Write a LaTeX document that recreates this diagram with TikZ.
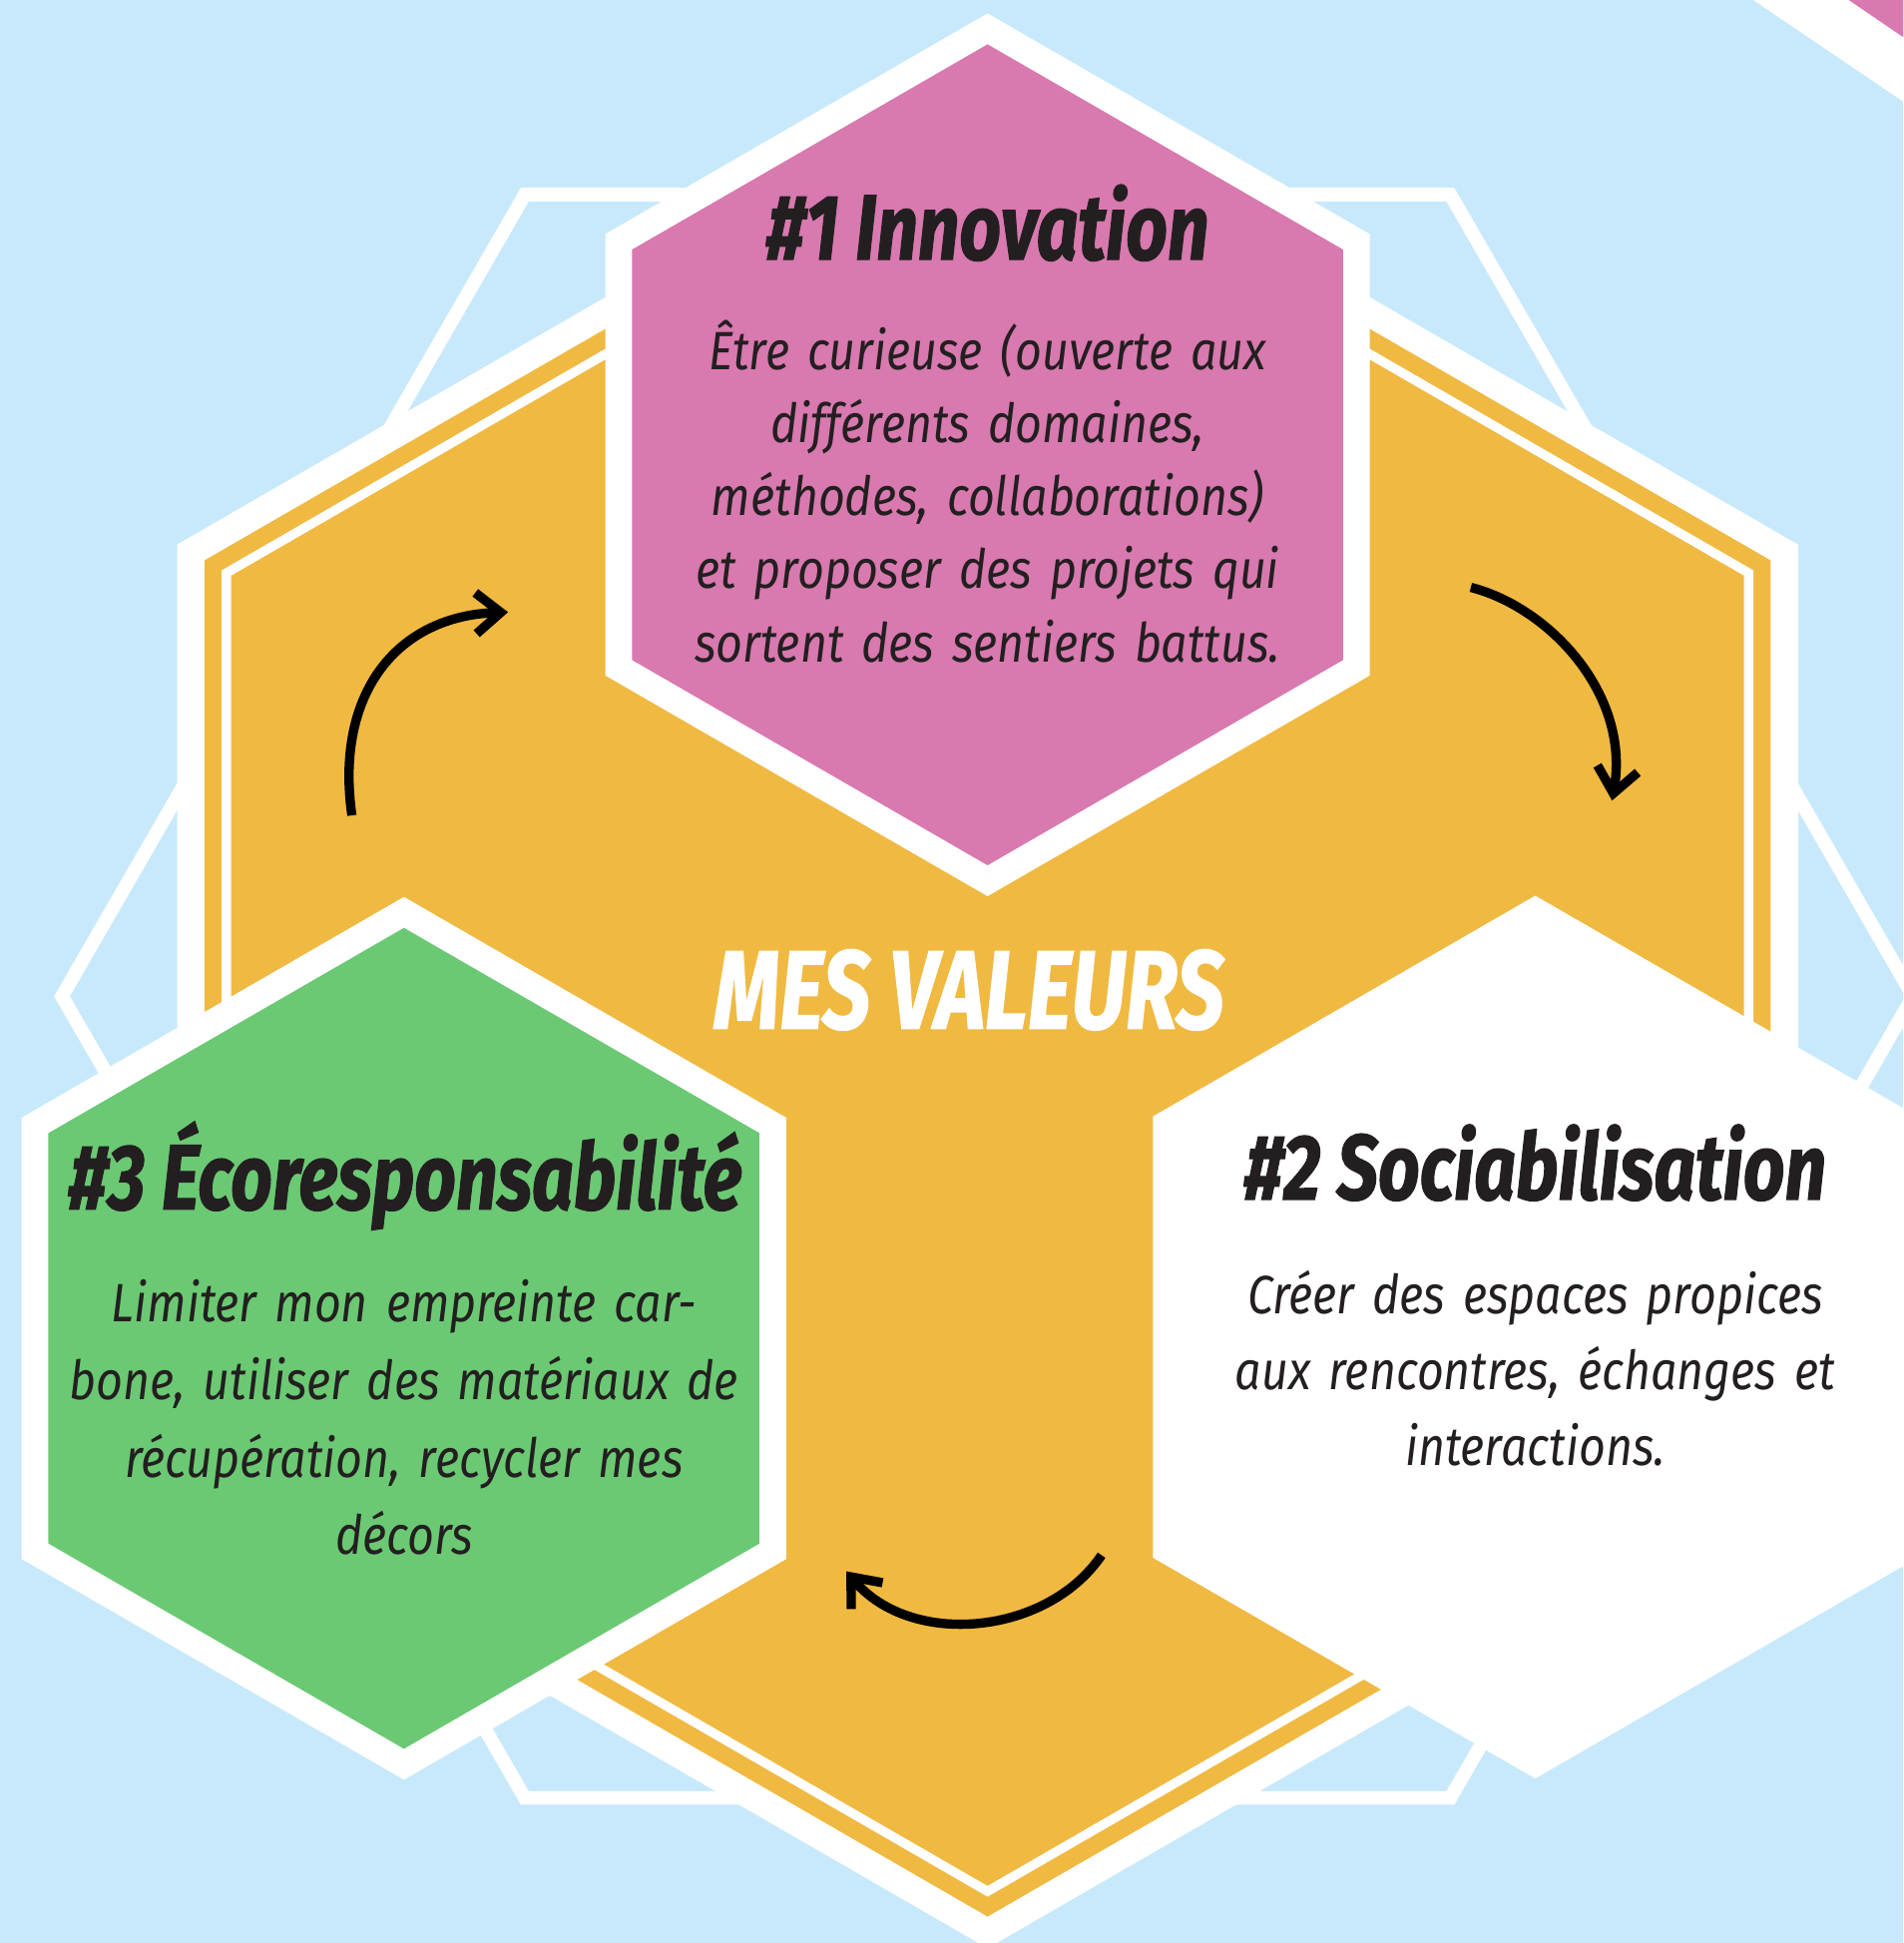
\documentclass[tikz,border=0pt]{standalone}
\usepackage{fontspec}
\newfontfamily\titlefont[FakeStretch=0.785, BoldItalicFeatures={FakeBold=1.2}]{Fira Sans}
\newfontfamily\bannerfont[FakeStretch=0.76, BoldItalicFeatures={FakeBold=1.2}]{Fira Sans}
\newfontfamily\bodyfont[FakeStretch=0.86, WordSpace=0.7]{Fira Sans}
\usetikzlibrary{
    arrows.meta,
    shapes.geometric % for regular polygon
}

\definecolor{sky}{HTML}{C8E9FB}
\definecolor{honey}{HTML}{F0B942}
\definecolor{rose}{HTML}{D879AF}
\definecolor{leaf}{HTML}{6BC973}
\definecolor{ink}{HTML}{231F20}

\tikzset{
    hexa/.style={regular polygon, regular polygon sides=6, shape border rotate=30,
        inner sep=0pt, outer sep=0pt},
    smallhex/.style={hexa, minimum size=68.76mm, draw=white, line width=2.15mm, fill=#1},
    headline/.style={font=\titlefont\bfseries\itshape\fontsize{21.3}{24}\selectfont,
        text=ink, anchor=base, inner sep=0pt},
    blurb/.style={font=\bodyfont\itshape\fontsize{12.4}{#1}\selectfont,
        text=ink, anchor=base, align=center, text width=70mm, inner sep=0pt},
    curvedarrow/.style={->, line width=0.75mm, black},
}

\begin{document}
\begin{tikzpicture}[x=0.1mm, y=-0.1mm, >={Straight Barb[length=2mm,width=3.3mm]}]
    \useasboundingbox (0,0) rectangle (1536,1568);
    \clip (0,0) rectangle (1536,1568);
    \fill[sky] (0,0) rectangle (1536,1568);

    % corner of the next hexagon, top right
    \fill[white] (1415,0) -- (1536,82) -- (1536,0) -- cycle;
    \fill[rose]  (1492,0) -- (1536,30) -- (1536,0) -- cycle;

    % flat outline behind everything
    \node[regular polygon, regular polygon sides=6, inner sep=0pt, outer sep=0pt,
          minimum size=149.4mm, draw=white, line width=1.1mm] (frame) at (797,804) {};

    % big hexagon
    \node[hexa, minimum size=148.5mm, draw=white, line width=2.2mm, fill=honey] (hive) at (797,817) {};
    \node[hexa, minimum size=141.86mm, draw=white, line width=0.75mm] (hivering) at (797,817) {};

    % the three values
    \node[smallhex=rose]  (innov)  at (797,367)  {};
    \node[smallhex=leaf]  (ecolo)  at (326,1080) {};
    \node[smallhex=white] (social) at (1239,1079) {};

    \node[headline] (innovtitle) at (797,209.5) {\#1 Innovation};
    \node[blurb=16.8] (innovtext) at (797,298)
        {Être curieuse (ouverte aux\\ différents domaines,\\ méthodes, collaborations)\\
         et proposer des projets qui\\ sortent des sentiers battus.};

    \node[headline] (socialtitle) at (1239,968) {\#2 Sociabilisation};
    \node[blurb=17.4] (socialtext) at (1239,1060.4)
        {Créer des espaces propices\\ aux rencontres, échanges et\\ interactions.};

    \node[headline] (ecolotitle) at (327,976) {\#3 Écoresponsabilité};
    \node[blurb=17.8] (ecolotext) at (326,1066.8)
        {Limiter mon empreinte car-\\ bone, utiliser des matériaux de\\ récupération, recycler mes\\ décors};

    \node[headline, text=white, font=\bannerfont\bfseries\itshape\fontsize{25.6}{28}\selectfont]
        (hivetitle) at (782,830) {MES VALEURS};

    % arrows going round
    \coordinate (leftfrom)  at (284,658);
    \coordinate (leftto)    at (410,494);
    \coordinate (rightfrom) at (1187,474);
    \coordinate (rightto)   at (1301,646);
    \coordinate (downfrom)  at (889,1255);
    \coordinate (downto)    at (683,1268);

    \draw[curvedarrow] (leftfrom)  .. controls (270,560)  and (320,497)  .. (leftto);
    \draw[curvedarrow] (rightfrom) .. controls (1250,490) and (1316,560) .. (rightto);
    \draw[curvedarrow] (downfrom)  .. controls (845,1320) and (735,1330) .. (downto);
\end{tikzpicture}
\end{document}
